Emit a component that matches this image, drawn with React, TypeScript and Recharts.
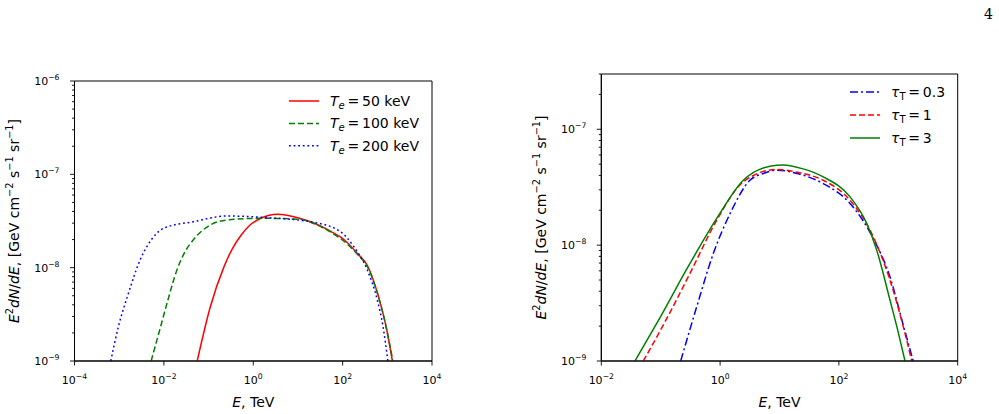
import React from "react";
import { LineChart, Line, XAxis, YAxis, Legend, ReferenceArea } from "recharts";

const FONT = "'DejaVu Sans', sans-serif";

// left panel: electron temperature (E in TeV, E^2 dN/dE)
const te50E = [0.0557, 0.108, 0.221, 0.342, 0.524, 0.859, 1.48, 3.5, 10.8, 23.3, 54.2, 110, 216, 368, 542, 733, 964, 1300];
const te50Y = [1e-9, 3.72e-9, 1.02e-8, 1.6e-8, 2.2e-8, 2.88e-8, 3.38e-8, 3.73e-8, 3.39e-8, 2.99e-8, 2.45e-8, 1.98e-8, 1.41e-8, 1.03e-8, 6.3e-9, 3.82e-9, 2.2e-9, 1e-9];
const te100E = [0.00519, 0.00826, 0.0126, 0.0195, 0.0302, 0.0461, 0.109, 0.259, 1.44, 10.8, 23.3, 54.2, 110, 216, 368, 542, 733, 964, 1330];
const te100Y = [1e-9, 2.24e-9, 4.68e-9, 9.4e-9, 1.5e-8, 2.0e-8, 2.87e-8, 3.24e-8, 3.38e-8, 3.3e-8, 2.95e-8, 2.4e-8, 1.9e-8, 1.38e-8, 1.0e-8, 6.2e-9, 3.8e-9, 2.2e-9, 1e-9];
const te200E = [0.000649, 0.000959, 0.00161, 0.00294, 0.00416, 0.00638, 0.00979, 0.0461, 0.259, 1.44, 22.6, 89.7, 178, 356, 597, 794, 1030];
const te200Y = [1e-9, 2.33e-9, 5.31e-9, 1.21e-8, 1.68e-8, 2.24e-8, 2.64e-8, 3.11e-8, 3.58e-8, 3.47e-8, 3.06e-8, 2.43e-8, 1.68e-8, 9.44e-9, 4.51e-9, 2.4e-9, 1e-9];

// right panel: Thomson optical depth
const tau03E = [0.217, 0.404, 0.769, 1.47, 3.18, 5.33, 8.97, 20, 54.6, 154, 379, 724, 1213, 1782];
const tau03Y = [1e-9, 2.94e-9, 8.47e-9, 1.87e-8, 3.63e-8, 4.15e-8, 4.44e-8, 4.15e-8, 3.4e-8, 2.29e-8, 1.14e-8, 5.33e-9, 2.04e-9, 1e-9];
const tau1E = [0.0509, 0.111, 0.311, 0.877, 2.46, 8.97, 20, 54.6, 154, 379, 724, 1213, 1683];
const tau1Y = [1e-9, 2.05e-9, 5.7e-9, 1.64e-8, 3.52e-8, 4.5e-8, 4.25e-8, 3.63e-8, 2.44e-8, 1.18e-8, 4.99e-9, 1.98e-9, 1e-9];
const tau3E = [0.0369, 0.0857, 0.311, 0.877, 2.46, 6.92, 11.6, 25, 54.6, 154, 294, 433, 724, 1000, 1297];
const tau3Y = [1e-9, 2.11e-9, 6.95e-9, 1.7e-8, 3.63e-8, 4.8e-8, 4.92e-8, 4.55e-8, 3.88e-8, 2.61e-8, 1.54e-8, 9.06e-9, 3.36e-9, 1.76e-9, 1e-9];

const leftXTicks = [1e-4, 1e-2, 1, 1e2, 1e4];
const rightXTicks = [1e-2, 1, 1e2, 1e4];
const leftYMajor = [1e-9, 1e-8, 1e-7, 1e-6];
const rightYMajor = [1e-9, 1e-8, 1e-7];
const minorMantissas = [2, 3, 4, 5, 6, 7, 8, 9];

function logTicks(majors: number[], top: number) {
  const out: number[] = [];
  majors.forEach((m) => {
    out.push(m);
    minorMantissas.forEach((k) => out.push(Number((m * k).toPrecision(3))));
  });
  return out.filter((v) => v <= top * 1.0001);
}

const pts = (xs: number[], ys: number[]) => xs.map((x, i) => ({ x, y: ys[i] }));

const sup = (n: number) => (n < 0 ? "\u2212" + Math.abs(n) : String(n));

const TICK_FS = 11;
const SUP_FS = 7.7;
const LABEL_FS = 14;

function XTick(props: any) {
  const { x, y, payload } = props;
  const e = Math.round(Math.log10(payload.value));
  return (
    <text x={x} y={y + 16} textAnchor="middle" fontFamily={FONT} fontSize={TICK_FS} fill="#000">
      10<tspan dy={-5} fontSize={SUP_FS}>{sup(e)}</tspan>
    </text>
  );
}

const Y_TICK = 5;
function YTick(props: any) {
  const { x, y, payload } = props;
  const lg = Math.log10(payload.value);
  const e = Math.round(lg);
  const major = Math.abs(lg - e) < 1e-6;
  const ax = x + Y_TICK;
  return (
    <g>
      <line x1={ax - (major ? 4.5 : 2.5)} x2={ax} y1={y} y2={y} stroke="#000" strokeWidth={0.9} />
      {major && (
        <text x={ax - 15} y={y + 4} textAnchor="end" fontFamily={FONT} fontSize={TICK_FS} fill="#000">
          10<tspan dy={-5} fontSize={SUP_FS}>{sup(e)}</tspan>
        </text>
      )}
    </g>
  );
}

type Series = { label: React.ReactNode; data: { x: number; y: number }[]; color: string; dash?: string };

const teLabel = (v: string) => (
  <>
    <tspan fontStyle="italic">T</tspan>
    <tspan fontStyle="italic" fontSize={10} dy={3}>e</tspan>
    <tspan dy={-3}>{"\u2009=\u2009" + v}</tspan>
    <tspan> keV</tspan>
  </>
);
const tauLabel = (v: string) => (
  <>
    <tspan fontStyle="italic">{"\u03c4"}</tspan>
    <tspan fontSize={10} dy={3}>T</tspan>
    <tspan dy={-3}>{"\u2009=\u2009" + v}</tspan>
  </>
);

const leftSeries: Series[] = [
  { label: teLabel("50"), data: pts(te50E, te50Y), color: "#ff0000" },
  { label: teLabel("100"), data: pts(te100E, te100Y), color: "#008000", dash: "6 3" },
  { label: teLabel("200"), data: pts(te200E, te200Y), color: "#0000ff", dash: "1.8 2.8" },
];
const rightSeries: Series[] = [
  { label: tauLabel("0.3"), data: pts(tau03E, tau03Y), color: "#0000ff", dash: "8 3 2 3" },
  { label: tauLabel("1"), data: pts(tau1E, tau1Y), color: "#ff0000", dash: "6 3" },
  { label: tauLabel("3"), data: pts(tau3E, tau3Y), color: "#008000" },
];

function LegendBox({ series, rowGap }: { series: Series[]; rowGap: number }) {
  return (
    <svg width={140} height={rowGap * 3 + 4}>
      {series.map((s, i) => {
        const cy = 12 + i * rowGap;
        return (
          <g key={i}>
            <line x1={6} x2={36} y1={cy} y2={cy} stroke={s.color} strokeWidth={1.5} strokeDasharray={s.dash} />
            <text x={47} y={cy + 5} fontFamily={FONT} fontSize={LABEL_FS} fill="#000">
              {s.label}
            </text>
          </g>
        );
      })}
    </svg>
  );
}

type PanelProps = {
  left: number;
  width: number;
  margin: { top: number; right: number; bottom: number; left: number };
  xDomain: [number, number];
  xTicks: number[];
  yDomain: [number, number];
  yTicks: number[];
  series: Series[];
  legendPos: { left: number; top: number };
  rowGap: number;
};

function Panel(p: PanelProps) {
  return (
    <div style={{ position: "absolute", left: p.left, top: 0 }}>
      <LineChart width={p.width} height={414} margin={p.margin}>
        <XAxis
          dataKey="x"
          type="number"
          scale="log"
          domain={p.xDomain}
          allowDataOverflow
          ticks={p.xTicks}
          interval={0}
          height={30}
          tickSize={4.5}
          tickMargin={2}
          axisLine={{ stroke: "#000" }}
          tickLine={{ stroke: "#000", strokeWidth: 0.9 }}
          tick={(t: any) => <XTick {...t} />}
        />
        <YAxis
          type="number"
          scale="log"
          domain={p.yDomain}
          allowDataOverflow
          ticks={p.yTicks}
          interval={0}
          width={60}
          tickSize={Y_TICK}
          tickMargin={0}
          tickLine={false}
          axisLine={{ stroke: "#000" }}
          tick={(t: any) => <YTick {...t} />}
        />
        {p.series.map((s, i) => (
          <Line
            key={i}
            data={s.data}
            dataKey="y"
            type="monotone"
            stroke={s.color}
            strokeWidth={1.5}
            strokeDasharray={s.dash}
            dot={false}
            activeDot={false}
            isAnimationActive={false}
          />
        ))}
        <ReferenceArea
          x1={p.xDomain[0]}
          x2={p.xDomain[1]}
          y1={p.yDomain[0]}
          y2={p.yDomain[1]}
          fill="none"
          stroke="#000"
          strokeWidth={1}
          ifOverflow="visible"
        />
        <Legend
          layout="vertical"
          align="center"
          verticalAlign="middle"
          wrapperStyle={{ left: p.legendPos.left, top: p.legendPos.top, width: 140 }}
          content={() => <LegendBox series={p.series} rowGap={p.rowGap} />}
        />
      </LineChart>
    </div>
  );
}

function YTitle({ x, y }: { x: number; y: number }) {
  const s = 9.8;
  return (
    <text transform={`rotate(-90 ${x} ${y})`} x={x} y={y} textAnchor="middle" fontFamily={FONT} fontSize={LABEL_FS} fill="#000">
      <tspan fontStyle="italic">E</tspan>
      <tspan dy={-6} fontSize={s}>2</tspan>
      <tspan dy={6} fontStyle="italic">dN</tspan>/<tspan fontStyle="italic">dE</tspan>, [GeV cm
      <tspan dy={-6} fontSize={s}>{"\u22122"}</tspan>
      <tspan dy={6}> s</tspan>
      <tspan dy={-6} fontSize={s}>{"\u22121"}</tspan>
      <tspan dy={6}> sr</tspan>
      <tspan dy={-6} fontSize={s}>{"\u22121"}</tspan>
      <tspan dy={6}>]</tspan>
    </text>
  );
}

function XTitle({ x, y }: { x: number; y: number }) {
  return (
    <text x={x} y={y} textAnchor="middle" fontFamily={FONT} fontSize={LABEL_FS} fill="#000">
      <tspan fontStyle="italic">E</tspan>, TeV
    </text>
  );
}

export default function App() {
  return (
    <div style={{ position: "relative", width: 999, height: 414, background: "#fff", overflow: "hidden" }}>
      <style>{"body{margin:0}"}</style>
      <Panel
        left={0}
        width={470}
        margin={{ top: 81, right: 38, bottom: 23, left: 14.5 }}
        xDomain={[1e-4, 1e4]}
        xTicks={leftXTicks}
        yDomain={[1e-9, 1e-6]}
        yTicks={logTicks(leftYMajor, 1e-6)}
        series={leftSeries}
        legendPos={{ left: 283, top: 89 }}
        rowGap={22.4}
      />
      <Panel
        left={520}
        width={479}
        margin={{ top: 74, right: 41.3, bottom: 23, left: 21.3 }}
        xDomain={[1e-2, 1e4]}
        xTicks={rightXTicks}
        yDomain={[1e-9, 3e-7]}
        yTicks={logTicks(rightYMajor, 3e-7)}
        series={rightSeries}
        legendPos={{ left: 324, top: 80 }}
        rowGap={23}
      />
      <svg width={999} height={414} style={{ position: "absolute", left: 0, top: 0, pointerEvents: "none" }}>
        <text x={993} y={19} textAnchor="end" fontFamily="'DejaVu Serif', serif" fontSize={14} fill="#000">4</text>
        <YTitle x={18.5} y={221} />
        <YTitle x={546} y={217.5} />
        <XTitle x={253.3} y={406.5} />
        <XTitle x={779.5} y={406.5} />
      </svg>
    </div>
  );
}
